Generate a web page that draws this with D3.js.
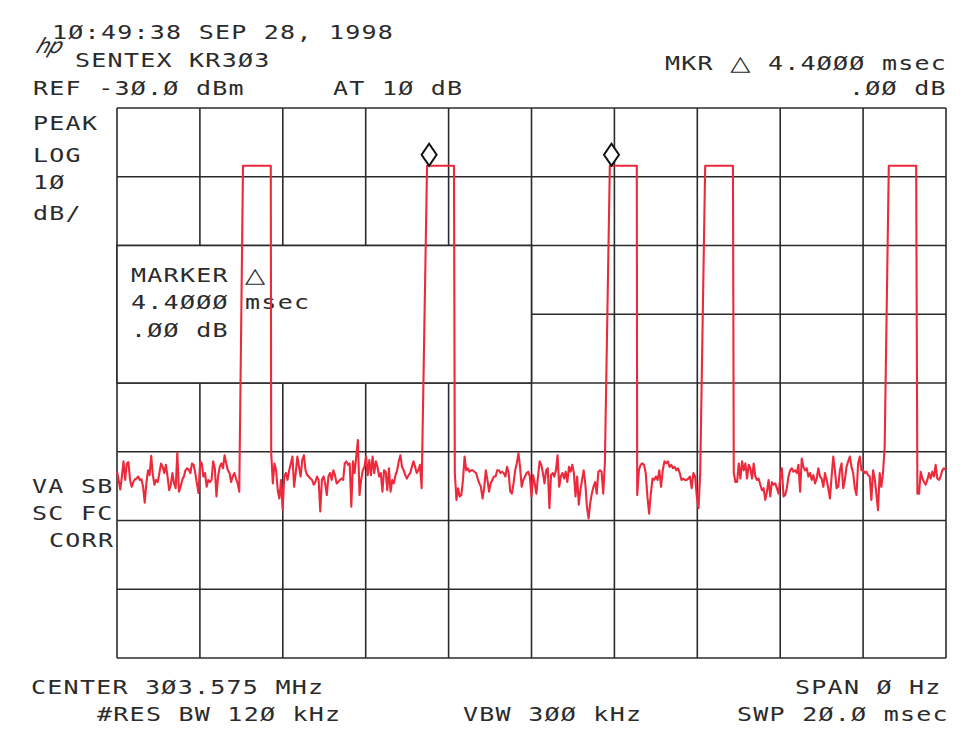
<!DOCTYPE html>
<html>
<head>
<meta charset="utf-8">
<script src="https://cdn.jsdelivr.net/npm/d3@7"></script>
<style>
body { margin: 0; background: #fff; }
text { font-family: "DejaVu Sans Mono", monospace; font-size: 20px; fill: #2b2b2b; letter-spacing: 1px; }
</style>
</head>
<body>
<script>
// instrument settings
const refLevel = -30;      // dBm, top graticule line
const dbPerDiv = 10;
const divisions = 8;
const sweepMs = 20;
const centerMHz = 303.575;
const resBwKHz = 120;
const vbwKHz = 300;
const attenDb = 10;

// pulses (ms) and their level (dBm)
const pulseOn = [3.04, 7.48, 11.89, 14.19, 18.62];
const pulseOff = [3.71, 8.13, 12.54, 14.86, 19.28];
const pulseTop = [-38.4, -38.4, -38.4, -38.4, -38.4];

// delta markers (ms)
const markerTimes = [7.53, 11.93];

// noise floor between the pulses (dBm)
const gapFrom = [0, 3.72, 8.15, 12.55, 14.88, 19.31];
const gapTo = [2.95, 7.35, 11.77, 14.07, 18.52, 19.99];

const noise0 = [-82.9, -84.1, -85.5, -83.6, -81.4, -84.1, -81.7, -81.5, -84.1, -85.1,
  -84.4, -84.0, -83.9, -83.6, -84.1, -84.0, -85.1, -87.4, -84.6, -82.7,
  -83.4, -80.6, -83.4, -84.8, -84.1, -84.4, -83.1, -81.7, -82.2, -83.1,
  -81.9, -83.6, -85.6, -84.8, -83.1, -84.6, -85.3, -80.1, -85.8, -85.1,
  -84.1, -83.6, -82.7, -82.4, -82.6, -83.1, -81.7, -81.9, -83.1, -84.6,
  -86.0, -81.4, -81.7, -83.6, -83.1, -85.1, -84.1, -84.4, -84.1, -81.4,
  -82.4, -86.5, -83.6, -82.2, -81.7, -82.4, -80.5, -81.7, -82.7, -83.1,
  -84.4, -83.6, -83.1, -83.9, -84.6, -85.8];

const noise1 = [-80.2, -84.6, -81.7, -82.7, -85.6, -86.8, -84.1, -88.4, -83.6, -83.1,
  -84.1, -82.7, -81.7, -80.7, -85.1, -83.1, -80.7, -82.2, -83.6, -81.2,
  -80.5, -82.7, -83.4, -83.6, -83.9, -84.1, -84.8, -84.4, -83.6, -84.1, -88.7,
  -84.1, -83.6, -84.6, -86.3, -83.6, -83.1, -84.1, -82.7, -83.4, -84.6,
  -84.4, -84.1, -83.9, -84.1, -81.7, -81.4, -81.9, -81.7, -88.0, -81.4,
  -83.1, -80.7, -78.3, -86.3, -84.1, -82.7, -82.2, -80.7, -83.4, -81.2,
  -83.4, -80.7, -83.1, -81.4, -82.2, -83.6, -83.1, -85.8, -82.7, -82.9,
  -85.6, -82.4, -85.8, -84.1, -84.6, -83.4, -82.7, -81.4, -80.5, -82.2,
  -82.7, -83.4, -83.9, -83.4, -83.1, -82.2, -81.4, -82.2, -83.1, -82.7,
  -81.9, -85.3];

const noise2 = [-83.1, -87.0, -85.3, -86.5, -86.3, -84.1, -80.7, -82.7, -82.4, -82.9,
  -82.7, -82.7, -82.9, -83.1, -83.9, -84.6, -85.1, -86.8, -85.3, -82.7,
  -84.1, -85.8, -84.6, -84.1, -83.6, -83.6, -82.7, -82.7, -83.1, -82.9,
  -83.1, -83.6, -82.2, -83.1, -85.8, -86.1, -84.6, -82.7, -81.7, -80.2,
  -82.2, -85.1, -84.1, -83.6, -83.1, -82.9,
  -83.6, -86.5, -83.4, -84.6, -86.1, -83.6, -81.4, -81.9, -83.1, -84.6,
  -82.7, -82.4, -88.2, -83.4, -83.1, -83.6, -82.7, -80.5, -85.1, -83.6,
  -83.1, -83.9, -82.9, -84.4, -82.2, -82.9, -81.9, -83.1, -86.5, -83.6,
  -87.7, -85.6, -84.1, -82.7, -84.6, -88.0, -89.7, -87.5, -86.1, -85.1,
  -84.4, -86.1, -82.9, -82.7, -82.9, -86.1, -81.7];

const noise3 = [-86.3, -82.7, -81.9, -81.7, -81.9, -83.1, -86.5, -89.0, -86.1, -83.9,
  -84.1, -83.6, -84.1, -82.7, -85.1, -82.7, -81.4, -81.7, -81.4, -82.2,
  -81.9, -82.4, -82.2, -82.7, -82.4, -83.1, -84.1, -83.9, -84.1, -84.1,
  -83.9, -83.6, -85.3, -83.1, -83.6, -86.5, -88.2, -83.1];

const noise4 = [-83.1, -84.4, -84.4,
  -81.7, -83.9, -81.4, -82.7, -81.7, -83.9, -81.9, -82.4, -83.9, -81.7,
  -83.6, -84.1, -83.9, -84.8, -85.6, -85.3, -87.0, -85.8, -84.1, -86.5,
  -84.4, -84.8, -84.6, -85.3, -86.1, -83.9, -82.4, -86.5, -86.3, -85.3,
  -83.6, -82.7, -82.4, -82.9, -82.7, -83.1, -81.9, -85.8, -81.0, -82.2,
  -82.7, -82.4, -83.6, -83.1, -84.1, -83.4, -84.6, -83.9, -82.4, -83.6,
  -83.9, -85.1, -83.1, -84.1, -85.3, -86.8, -83.6, -80.7, -82.7, -85.3,
  -85.1, -82.7, -81.7, -85.3, -84.1, -82.2, -81.4, -80.7, -82.2, -83.1,
  -85.3, -86.3, -81.7, -80.7, -82.7, -82.7, -83.1, -82.9, -83.4, -83.6,
  -87.0, -82.7, -83.9, -86.1, -88.5, -83.1, -85.1, -83.1, -79.3];

const noise5 = [-86.1, -86.1, -82.9, -83.9, -84.4, -84.8, -84.1, -83.1, -83.9, -82.9,
  -83.6, -81.9, -83.9, -84.1, -83.6, -82.7, -82.4, -82.6];

const noiseGaps = [noise0, noise1, noise2, noise3, noise4, noise5];

// helpers
const slashZero = s => s.replace(/0/g, "Ø");
const ink = "#2b2b2b";

const svg = d3.select("body").append("svg")
  .attr("width", 980)
  .attr("height", 750);

const x = d3.scaleLinear().domain([0, sweepMs]).range([117, 946]);
const y = d3.scaleLinear().domain([refLevel - dbPerDiv * divisions, refLevel]).range([658, 108]);

// graticule
const grid = svg.append("g")
  .attr("stroke", ink)
  .attr("stroke-width", 1.6)
  .attr("fill", "none");

grid.selectAll("line.v")
  .data(x.ticks(10))
  .join("line")
  .attr("x1", d => x(d)).attr("x2", d => x(d))
  .attr("y1", y.range()[1]).attr("y2", y.range()[0]);

grid.selectAll("line.h")
  .data(y.ticks(divisions))
  .join("line")
  .attr("x1", x.range()[0]).attr("x2", x.range()[1])
  .attr("y1", d => y(d)).attr("y2", d => y(d));

// marker readout window blanks part of the graticule
const boxT = [0, sweepMs / 2];
const boxL = [refLevel - 4 * dbPerDiv, refLevel - 2 * dbPerDiv];
svg.append("rect")
  .attr("x", x(boxT[0]))
  .attr("y", y(boxL[1]))
  .attr("width", x(boxT[1]) - x(boxT[0]))
  .attr("height", y(boxL[0]) - y(boxL[1]))
  .attr("fill", "#fff")
  .attr("stroke", ink)
  .attr("stroke-width", 1.6);

// annotation texts
const deltaMs = markerTimes[1] - markerTimes[0];
const deltaTxt = slashZero(deltaMs.toFixed(4));
const annotations = [
  { t: "1Ø:49:38 SEP 28, 1998", x: 52, y: 39 },
  { t: "SENTEX KR3Ø3", x: 75, y: 67 },
  { t: "REF " + slashZero(refLevel.toFixed(1)) + " dBm", x: 33, y: 95 },
  { t: "AT " + slashZero(String(attenDb)) + " dB", x: 333, y: 95 },
  { t: "MKR \u25B3 " + deltaTxt + " msec", x: 665, y: 70 },
  { t: ".ØØ dB", x: 849, y: 95 },
  { t: "PEAK", x: 33, y: 130 },
  { t: "LOG", x: 33, y: 162 },
  { t: slashZero(String(dbPerDiv)), x: 33, y: 189 },
  { t: "dB/", x: 33, y: 220 },
  { t: "VA SB", x: 32, y: 493 },
  { t: "SC FC", x: 32, y: 520 },
  { t: "CORR", x: 49, y: 547 },
  { t: "CENTER " + slashZero(centerMHz.toFixed(3)) + " MHz", x: 31, y: 694 },
  { t: "#RES BW " + slashZero(String(resBwKHz)) + " kHz", x: 97, y: 721 },
  { t: "VBW " + slashZero(String(vbwKHz)) + " kHz", x: 463, y: 721 },
  { t: "SPAN Ø Hz", x: 795, y: 694 },
  { t: "SWP " + slashZero(sweepMs.toFixed(1)) + " msec", x: 737, y: 721 },
  { t: "MARKER \u25B3", x: 131, y: 282 },
  { t: deltaTxt + " msec", x: 131, y: 309 },
  { t: ".ØØ dB", x: 131, y: 337 }
];

// plotter font is wider than the mono font: stretch horizontally
const txt = svg.append("g")
  .selectAll("text")
  .data(annotations)
  .join("text")
  .attr("transform", d => `translate(${d.x},${d.y}) scale(1.25,1)`);

txt.each(function (d) {
  const el = d3.select(this);
  d.t.split(/(\u25B3)/).forEach(part => {
    if (!part) return;
    const ts = el.append("tspan").text(part);
    if (part === "\u25B3") ts.style("font-family", "DejaVu Sans").style("font-size", "21px");
  });
});

// hp logo
svg.append("text")
  .attr("transform", "translate(35,53) skewX(-20)")
  .style("font-family", "DejaVu Sans")
  .style("font-style", "italic")
  .style("font-size", "21px")
  .style("letter-spacing", "-1px")
  .text("hp");

// build the trace: noise, then each pulse
const pts = [];
noiseGaps.forEach((lv, i) => {
  const step = (gapTo[i] - gapFrom[i]) / (lv.length - 1);
  lv.forEach((v, k) => pts.push([gapFrom[i] + k * step, v]));
  if (i < pulseOn.length) {
    pts.push([pulseOn[i], pulseTop[i]]);
    pts.push([pulseOff[i], pulseTop[i]]);
  }
});

const line = d3.line()
  .x(d => x(d[0]))
  .y(d => y(d[1]));

svg.append("path")
  .datum(pts)
  .attr("d", line)
  .attr("fill", "none")
  .attr("stroke", "#ec2a3c")
  .attr("stroke-width", 2.1)
  .attr("stroke-linejoin", "round");

// marker diamonds sit on top of the pulse
svg.selectAll("path.mkr")
  .data(markerTimes)
  .join("path")
  .attr("class", "mkr")
  .attr("d", d => {
    const cx = x(d), by = y(pulseTop[0]);
    return `M${cx},${by} L${cx + 7.5},${by - 11} L${cx},${by - 22} L${cx - 7.5},${by - 11} Z`;
  })
  .attr("fill", "#fff")
  .attr("stroke", "#111")
  .attr("stroke-width", 2);
</script>
</body>
</html>
